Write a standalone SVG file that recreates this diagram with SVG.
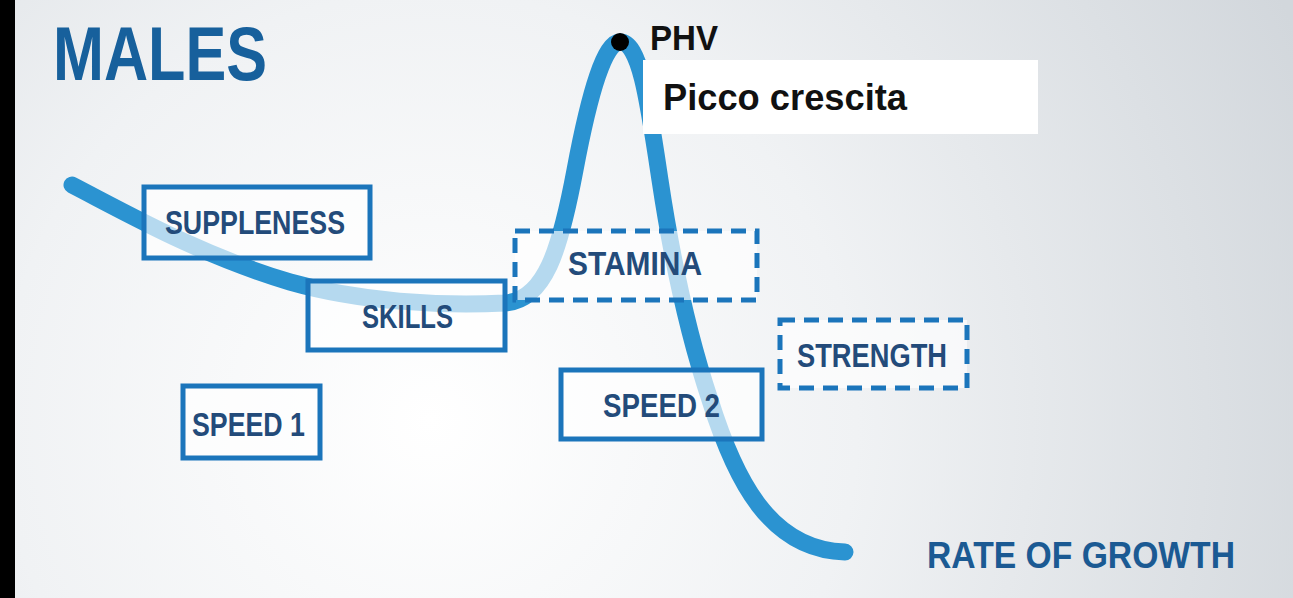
<svg xmlns="http://www.w3.org/2000/svg" width="1293" height="598" viewBox="0 0 1293 598">
<defs>
<radialGradient id="bg" gradientUnits="userSpaceOnUse" cx="430" cy="420" r="950">
<stop offset="0" stop-color="#ffffff"/>
<stop offset="0.45" stop-color="#f0f2f4"/>
<stop offset="1" stop-color="#d2d7dc"/>
</radialGradient>
<style>
.box{fill:#ffffff;fill-opacity:0.65;stroke:#1b75bb;stroke-width:5}
.dash{stroke-dasharray:15 9}
.lbl{font-family:"Liberation Sans",Arial,sans-serif;font-weight:bold;font-size:33px;fill:#234b7a}
.curve{fill:none;stroke:#2b93d1;stroke-width:17;stroke-linecap:round;stroke-linejoin:round}
</style>
</defs>
<rect x="0" y="0" width="1293" height="598" fill="url(#bg)"/>
<rect x="0" y="0" width="15" height="598" fill="#000000"/>
<g id="title">
<text x="53" y="80" font-family="'Liberation Sans',Arial,sans-serif" font-weight="bold" font-size="76" fill="#17609c" textLength="214" lengthAdjust="spacingAndGlyphs">MALES</text>
</g>
<g id="connectors">
<path class="curve" d="M 72 185 C 130 215, 200 255, 290 282 C 360 302, 440 306, 505 303 C 545 300, 560 250, 575 170 C 590 90, 605 42, 620 42 C 640 42, 648 100, 660 180 C 672 260, 690 340, 710 400 C 735 480, 770 550, 845 552"/>
</g>
<g id="phv">
<circle cx="620" cy="42" r="9" fill="#000000"/>
<text x="650" y="50" font-family="'Liberation Sans',Arial,sans-serif" font-weight="bold" font-size="35" fill="#111111" textLength="68" lengthAdjust="spacingAndGlyphs">PHV</text>
</g>
<g id="picco">
<rect x="643" y="60" width="395" height="74" fill="#ffffff"/>
<text x="663" y="110" font-family="'Liberation Sans',Arial,sans-serif" font-weight="bold" font-size="36" fill="#111111" textLength="244" lengthAdjust="spacingAndGlyphs">Picco crescita</text>
</g>
<g id="suppleness">
<rect class="box" x="144" y="187" width="226" height="71"/>
<text class="lbl" x="165" y="234" textLength="180" lengthAdjust="spacingAndGlyphs">SUPPLENESS</text>
</g>
<g id="skills">
<rect class="box" x="308" y="281" width="197" height="69"/>
<text class="lbl" x="362" y="328" textLength="91" lengthAdjust="spacingAndGlyphs">SKILLS</text>
</g>
<g id="stamina">
<rect class="box dash" x="515" y="231" width="242" height="69"/>
<text class="lbl" x="568" y="275" textLength="134" lengthAdjust="spacingAndGlyphs">STAMINA</text>
</g>
<g id="strength">
<rect class="box dash" x="780" y="320" width="187" height="68"/>
<text class="lbl" x="797" y="367" textLength="150" lengthAdjust="spacingAndGlyphs">STRENGTH</text>
</g>
<g id="speed2">
<rect class="box" x="561" y="370" width="201" height="69"/>
<text class="lbl" x="603" y="417" textLength="117" lengthAdjust="spacingAndGlyphs">SPEED 2</text>
</g>
<g id="speed1">
<rect class="box" x="183" y="386" width="137" height="72"/>
<text class="lbl" x="192" y="436" textLength="113" lengthAdjust="spacingAndGlyphs">SPEED 1</text>
</g>
<g id="rate">
<text x="927" y="568" font-family="'Liberation Sans',Arial,sans-serif" font-weight="bold" font-size="36" fill="#1b5a93" textLength="308" lengthAdjust="spacingAndGlyphs">RATE OF GROWTH</text>
</g>
</svg>
